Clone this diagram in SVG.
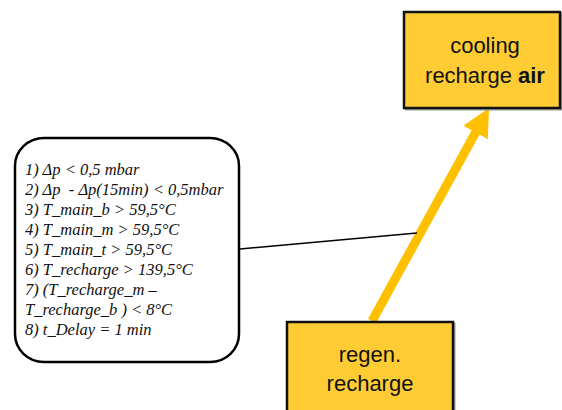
<svg xmlns="http://www.w3.org/2000/svg" width="562" height="410" viewBox="0 0 562 410">
  <defs>
    <style>
      .box { fill: #FFCC33; stroke: #111; stroke-width: 2.5; }
      .shadow { fill: none; stroke: #9a9a9a; stroke-width: 2; }
      .label { font-family: "Liberation Sans", Arial, sans-serif; font-size: 22px; fill: #111; text-anchor: middle; }
      .cond { font-family: "Liberation Serif", "Times New Roman", serif; font-style: italic; font-size: 16.5px; fill: #111; }
      .note { fill: #fff; stroke: #000; stroke-width: 2.5; }
    </style>
    <marker id="head" markerUnits="userSpaceOnUse" markerWidth="30" markerHeight="30" refX="8" refY="14" orient="auto">
      <path d="M0,0 L28,14 L0,28 Z" fill="#FFC000"/>
    </marker>
  </defs>

  <rect width="562" height="410" fill="#fff"/>

  <!-- connectors -->
  <g id="connectors">
    <line x1="372" y1="321" x2="479.4" y2="125.5" stroke="#FFC000" stroke-width="9" marker-end="url(#head)"/>
    <line x1="240" y1="249" x2="417" y2="233" stroke="#000" stroke-width="1.5"/>
  </g>

  <!-- condition note -->
  <g id="conditions">
    <rect class="note" x="15" y="138" width="224" height="224" rx="29" ry="28"/>
    <text class="cond" x="25" y="174.5">1) Δp &lt; 0,5 mbar</text>
    <text class="cond" x="25" y="194.5" xml:space="preserve">2) Δp  - Δp(15min) &lt; 0,5mbar</text>
    <text class="cond" x="25" y="214.5">3) T_main_b &gt; 59,5°C</text>
    <text class="cond" x="25" y="234.5">4) T_main_m &gt; 59,5°C</text>
    <text class="cond" x="25" y="254.5">5) T_main_t &gt; 59,5°C</text>
    <text class="cond" x="25" y="274.5">6) T_recharge &gt; 139,5°C</text>
    <text class="cond" x="25" y="295">7) (T_recharge_m –</text>
    <text class="cond" x="25" y="315">T_recharge_b ) &lt; 8°C</text>
    <text class="cond" x="25" y="335">8) t_Delay = 1 min</text>
  </g>

  <!-- state: cooling recharge air -->
  <g id="cooling">
    <rect class="shadow" x="405.5" y="13.5" width="156" height="96"/>
    <rect class="box" x="404" y="12" width="156" height="96"/>
    <text class="label" x="485" y="53">cooling</text>
    <text class="label" x="485" y="83">recharge <tspan font-weight="bold">air</tspan></text>
  </g>

  <!-- state: regen. recharge -->
  <g id="regen">
    <rect class="shadow" x="288.5" y="323.5" width="166" height="100"/>
    <rect class="box" x="287" y="322" width="166" height="100"/>
    <text class="label" x="370" y="362">regen.</text>
    <text class="label" x="370" y="391">recharge</text>
  </g>
</svg>
